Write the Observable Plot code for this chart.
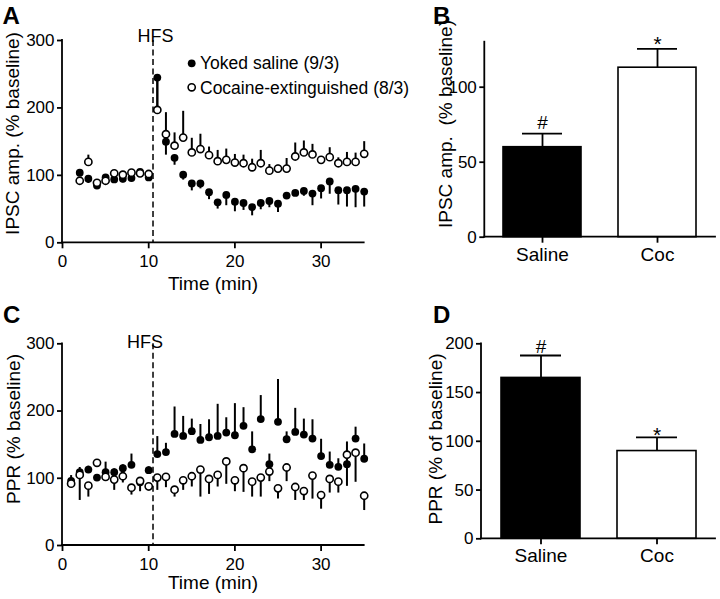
<!DOCTYPE html>
<html><head><meta charset="utf-8">
<script src="https://cdn.jsdelivr.net/npm/d3@7"></script>
<script src="https://cdn.jsdelivr.net/npm/@observablehq/plot@0.6"></script>
<style>
html,body{margin:0;padding:0;background:#fff;}
#fig{position:relative;width:720px;height:599px;overflow:hidden;font-family:"Liberation Sans",Arial,sans-serif;color:#000;background:#fff;}
#fig svg{position:absolute;left:0;top:0;}
#fig svg [aria-label^="x-axis"] line, #fig svg [aria-label^="x-axis"] path,
#fig svg [aria-label^="y-axis"] line, #fig svg [aria-label^="y-axis"] path{stroke-width:1.8px;}
</style></head><body><div id="fig"></div>
<script>
// ---- Panel A: IPSC amplitude time course ----
const timeA = [2,3,4,5,6,7,8,9,10,11,12,13,14,15,16,17,18,19,20,21,22,23,24,25,26,27,28,29,30,31,32,33,34,35];
const salineA    = [104,95,85,97,94,95,96,105,97,245,150,126,101,88,88,75,60,71,61,59,53,59,62,58,70,74,77,73,81,91,78,78,80,76];
const salineSemA = [4,7,6,4,4,6,4,3,4,45,20,11,8,11,8,11,10,16,15,11,13,10,10,13,5,5,8,18,16,19,22,25,28,23];
const cocA       = [92,120,89,92,103,101,104,103,102,197,161,144,156,134,139,130,121,123,119,118,112,118,107,110,110,128,134,131,123,127,118,120,120,132];
const cocSemA    = [3,10,3,3,4,4,4,4,3,45,32,19,39,21,22,12,16,16,12,12,12,19,9,5,15,20,17,15,5,14,8,14,13,18];

// ---- Panel C: PPR time course ----
const timeC = [1,2,3,4,5,6,7,8,9,10,11,12,13,14,15,16,17,18,19,20,21,22,23,24,25,26,27,28,29,30,31,32,33,34,35];
const salineC    = [96,109,113,101,109,109,115,120,94,112,136,139,166,163,170,157,161,163,168,164,178,143,188,121,184,158,169,165,159,133,120,117,121,159,129];
const salineSemC = [8,7,5,4,15,5,5,16,5,5,26,13,40,29,18,23,26,47,22,47,27,26,35,15,63,11,35,23,28,25,19,12,33,17,22];
const cocC       = [92,105,89,123,102,98,103,86,96,88,101,102,83,97,103,113,99,105,125,97,115,95,101,110,85,116,87,81,104,75,99,95,135,138,74];
const cocSemC    = [3,38,17,3,3,16,10,11,16,7,19,16,11,15,16,41,23,18,34,17,36,23,29,15,16,21,20,14,35,21,21,17,47,44,22];

// ---- Shared ----
const hfsTime = [10.5];
const hfsLabel = ["HFS"];
const timeTicks = [0,10,20,30];
const yTicksAC = [0,100,200,300];
const legendLabels = ["Yoked saline (9/3)", "Cocaine-extinguished (8/3)"];

// ---- Panel B / D bar summaries ----
const barGroups = ["Saline","Coc"];
const barMeanB = [60,113];
const barSemB  = [9,12.5];
const barSigB  = ["#","*"];
const yTicksB  = [0,50,100];
const barMeanD = [165,90];
const barSemD  = [23,14];
const barSigD  = ["#","*"];
const yTicksD  = [0,50,100,150,200];

const fig = document.getElementById("fig");
const W = 720, H = 599;
const FONT = '"Liberation Sans", Arial, sans-serif';
const baseStyle = {background:"transparent", fontFamily: FONT, fontSize:"17px", color:"black", overflow:"visible"};
const R_FILL = 3.9, R_OPEN = 3.6;

function timePanel(times, sal, salE, coc, cocE, salDir, margins, hfsDx, hfsDy) {
  const rows = times.map((t,i)=>({t, sal:sal[i], salE:salE[i], coc:coc[i], cocE:cocE[i]}));
  return Plot.plot({
    width: W, height: H,
    ...margins,
    style: baseStyle,
    x: {domain:[0,35], ticks: timeTicks, tickSize:6, tickPadding:6, label:null},
    y: {domain:[0,300], ticks: yTicksAC, tickSize:5, tickPadding:3, label:null},
    marks: [
      Plot.ruleX(hfsTime, {x: d=>d, stroke:"black", strokeWidth:1.5, strokeDasharray:"6,3.5"}),
      Plot.text(hfsTime, {x: d=>d, frameAnchor:"top", text:(d,i)=>hfsLabel[i], dx:hfsDx, dy:hfsDy, fontSize:18}),
      Plot.ruleX(rows, {x:"t", y1:"sal", y2: d=> d.sal + salDir*d.salE, stroke:"black", strokeWidth:2}),
      Plot.dot(rows, {x:"t", y:"sal", r:R_FILL, fill:"black"}),
      Plot.ruleX(rows, {x:"t", y1:"coc", y2: d=> d.coc - salDir*d.cocE, stroke:"black", strokeWidth:2}),
      Plot.dot(rows, {x:"t", y:"coc", r:R_OPEN, fill:"white", stroke:"black", strokeWidth:1.6})
    ]
  });
}

function barPanel(means, sems, sigs, yDomain, yTicks, margins, pIn, pOut, sigDy) {
  const rows = barGroups.map((g,i)=>({g, m:means[i], e:sems[i], s:sigs[i]}));
  return Plot.plot({
    width: W, height: H,
    ...margins,
    style: baseStyle,
    x: {type:"band", domain: barGroups, paddingInner:pIn, paddingOuter:pOut, tickSize:6, tickPadding:4, label:null},
    y: {domain: yDomain, ticks: yTicks, tickSize:5, tickPadding:3, label:null},
    color: {domain: barGroups, range:["black","white"]},
    marks: [
      Plot.ruleX(rows, {x:"g", y1:"m", y2: d=>d.m+d.e, stroke:"black", strokeWidth:1.8}),
      Plot.tickY(rows, {x:"g", y: d=>d.m+d.e, stroke:"black", strokeWidth:1.8, insetLeft:19, insetRight:19}),
      Plot.barY(rows, {x:"g", y:"m", fill:"g", stroke:"black", strokeWidth:1.6}),
      Plot.text(rows.filter(r=>r.s==="#"), {x:"g", y: d=>d.m+d.e, text:"s", dy: sigDy[0], fontSize:19}),
      Plot.text(rows.filter(r=>r.s==="*"), {x:"g", y: d=>d.m+d.e, text:"s", dy: sigDy[1], fontSize:21})
    ]
  });
}

const chartA = timePanel(timeA, salineA, salineSemA, cocA, cocSemA, -1,
  {marginLeft:62, marginRight:W-363.7, marginTop:40, marginBottom:H-242.3}, 2.5, -11);
const chartC = timePanel(timeC, salineC, salineSemC, cocC, cocSemC, +1,
  {marginLeft:62, marginRight:W-363.7, marginTop:343.3, marginBottom:H-545}, -8, -9);
const chartB = barPanel(barMeanB, barSemB, barSigB, [0,130], yTicksB,
  {marginLeft:484.3, marginRight:5, marginTop:41.7, marginBottom:H-236.7}, 0.325, 0.165, [-11,-5]);
const chartD = barPanel(barMeanD, barSemD, barSigD, [0,200], yTicksD,
  {marginLeft:481, marginRight:5, marginTop:343.3, marginBottom:H-538.3}, 0.32, 0.166, [-9,-2]);

for (const c of [chartA, chartB, chartC, chartD]) {
  fig.appendChild(c);
  const xr = c.scale("x").range, yr = c.scale("y").range;
  const s = d3.select(c);
  const x0 = Math.min(...xr), x1 = Math.max(...xr), yb = Math.max(...yr), yt = Math.min(...yr);
  s.append("line").attr("x1",x0).attr("x2",x1).attr("y1",yb).attr("y2",yb)
    .attr("stroke","black").attr("stroke-width",1.8).attr("stroke-linecap","square");
  s.append("line").attr("x1",x0).attr("x2",x0).attr("y1",yb).attr("y2",yt)
    .attr("stroke","black").attr("stroke-width",1.8).attr("stroke-linecap","square");
}
d3.selectAll([chartB, chartD]).selectAll('[aria-label^="x-axis"] text').style("font-size","19px");

const ov = d3.select(fig).append("svg").attr("width",W).attr("height",H)
  .style("font-family", FONT).style("overflow","visible");
function txt(x,y,str,opt={}) {
  const t = ov.append("text").attr("x",x).attr("y",y).text(str)
    .attr("font-size", opt.size||19).attr("fill","black")
    .attr("text-anchor", opt.anchor||"middle");
  if (opt.bold) t.attr("font-weight","bold");
  if (opt.dy) t.attr("dy", opt.dy);
  return t;
}
function vtxt(cx, cy, str, size=19) {
  ov.append("text").attr("transform",`translate(${cx},${cy}) rotate(-90)`)
    .attr("text-anchor","middle").attr("dy","0.35em").attr("font-size",size).attr("fill","black")
    .text(str);
}
txt(2.5, 24, "A", {bold:true, size:24, anchor:"start"});
txt(433, 24, "B", {bold:true, size:24, anchor:"start"});
txt(3, 322.5, "C", {bold:true, size:24, anchor:"start"});
txt(433, 323, "D", {bold:true, size:24, anchor:"start"});
vtxt(12.5, 133.5, "IPSC amp. (% baseline)");
vtxt(445, 124, "IPSC amp.\u00A0\u00A0(% baseline)");
vtxt(13.3, 429, "PPR (% baseline)");
vtxt(435.8, 439, "PPR (% of baseline)");
txt(213, 289.5, "Time (min)");
txt(213, 589.3, "Time (min)");
ov.append("circle").attr("cx",191.7).attr("cy",63.3).attr("r",R_FILL).attr("fill","black");
ov.append("circle").attr("cx",191.7).attr("cy",87.3).attr("r",R_OPEN).attr("fill","white").attr("stroke","black").attr("stroke-width",1.6);
txt(200, 63.3, legendLabels[0], {anchor:"start", size:17.5, dy:"0.35em"});
txt(200, 87.8, legendLabels[1], {anchor:"start", size:17.5, dy:"0.35em"});
</script></body></html>
